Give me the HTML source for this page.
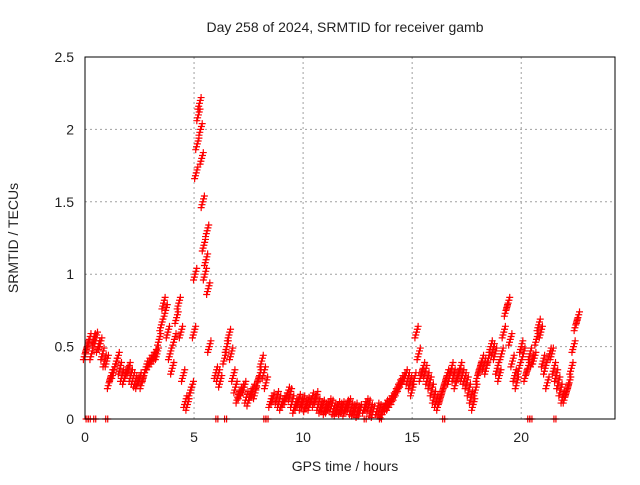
<!DOCTYPE html>
<html><head><meta charset="utf-8"><style>
body{margin:0;background:#fff;font-family:"Liberation Sans",sans-serif}
svg text{font-family:"Liberation Sans",sans-serif;font-size:14px;fill:#222}
</style></head><body>
<svg id="chart" width="640" height="480" xmlns="http://www.w3.org/2000/svg">
<text x="345" y="32" text-anchor="middle">Day 258 of 2024, SRMTID for receiver gamb</text>
<text x="345" y="471" text-anchor="middle">GPS time / hours</text>
<text transform="translate(18,238) rotate(-90)" text-anchor="middle">SRMTID / TECUs</text>
<g id="grid"></g><g id="ticks"></g><g id="marks"></g>
<rect x="85" y="57" width="530" height="362" fill="none" stroke="#000" stroke-width="1"/>
</svg>
<script>
const xTicks=[0,5,10,15,20];
const yTicks=[0,0.5,1,1.5,2,2.5];
const yTickLabels=["0","0.5","1","1.5","2","2.5"];
const times=[0,0.1,0.2,0.3,0.4,0.5,0.6,0.7,0.8,0.9,1.0,1.1,1.2,1.3,1.4,1.5,1.6,1.7,1.8,1.9,2.0,2.1,2.2,2.3,2.4,2.5,2.6,2.7,2.8,2.9,3.0,3.1,3.2,3.3,3.4,3.5,3.6,3.7,3.8,3.9,4.0,4.1,4.2,4.3,4.4,4.5,4.6,4.7,4.8,4.9,5.0,5.05,5.1,5.15,5.2,5.25,5.3,5.35,5.4,5.45,5.5,5.55,5.6,5.65,5.7,6.0,6.1,6.2,6.4,6.5,6.6,6.7,6.8,6.9,7.0,7.1,7.2,7.3,7.4,7.5,7.6,7.7,7.8,7.9,8.0,8.1,8.2,8.3,8.5,8.6,8.8,8.9,9.0,9.1,9.2,9.3,9.4,9.5,9.6,9.7,9.8,9.9,10.0,10.1,10.2,10.3,10.4,10.5,10.6,10.7,10.8,10.9,11.0,11.1,11.2,11.3,11.4,11.5,11.6,11.7,11.8,11.9,12.0,12.1,12.2,12.3,12.4,12.5,12.6,12.8,12.9,13.0,13.1,13.2,13.4,13.5,13.6,13.7,13.8,13.9,14.0,14.1,14.2,14.3,14.4,14.5,14.6,14.7,14.8,14.9,15.0,15.1,15.2,15.3,15.4,15.5,15.6,15.7,15.8,15.9,16.0,16.1,16.2,16.3,16.4,16.5,16.6,16.7,16.8,16.9,17.0,17.1,17.2,17.3,17.4,17.5,17.6,17.7,17.8,17.9,18.0,18.1,18.2,18.3,18.4,18.5,18.6,18.7,18.8,18.9,19.0,19.1,19.2,19.3,19.4,19.5,19.6,19.7,19.8,19.9,20.0,20.1,20.2,20.3,20.4,20.5,20.6,20.7,20.8,20.9,21.0,21.1,21.2,21.3,21.4,21.5,21.6,21.7,21.8,21.9,22.0,22.1,22.2,22.3,22.4,22.5,22.6,22.7,22.8];
const values=[0.45,0.5,0.55,0.45,0.55,0.56,0.5,0.52,0.45,0.4,0.4,0.25,0.3,0.32,0.38,0.42,0.35,0.3,0.28,0.32,0.35,0.3,0.28,0.26,0.25,0.28,0.25,0.3,0.36,0.38,0.4,0.42,0.44,0.45,0.55,0.65,0.8,0.75,0.6,0.45,0.35,0.55,0.7,0.8,0.6,0.3,0.12,0.1,0.18,0.22,0.6,1.0,1.7,1.9,2.1,2.18,2.0,1.8,1.5,1.2,1.0,1.1,1.3,0.9,0.5,0.32,0.3,0.26,0.42,0.5,0.58,0.45,0.3,0.22,0.15,0.18,0.2,0.22,0.15,0.13,0.17,0.2,0.18,0.25,0.3,0.4,0.32,0.25,0.12,0.14,0.15,0.12,0.1,0.12,0.14,0.18,0.17,0.12,0.08,0.1,0.13,0.1,0.12,0.09,0.11,0.1,0.14,0.12,0.15,0.1,0.08,0.09,0.07,0.08,0.1,0.09,0.07,0.06,0.08,0.07,0.08,0.06,0.09,0.1,0.07,0.06,0.07,0.05,0.06,0.08,0.1,0.09,0.06,0.05,0.07,0.06,0.05,0.07,0.09,0.1,0.12,0.14,0.17,0.2,0.23,0.26,0.28,0.3,0.28,0.25,0.2,0.28,0.6,0.45,0.3,0.35,0.33,0.28,0.25,0.2,0.15,0.12,0.1,0.15,0.2,0.25,0.3,0.28,0.35,0.3,0.25,0.3,0.35,0.3,0.28,0.25,0.2,0.15,0.1,0.2,0.3,0.35,0.4,0.38,0.35,0.42,0.5,0.48,0.45,0.35,0.3,0.45,0.6,0.75,0.8,0.55,0.4,0.3,0.25,0.35,0.5,0.45,0.3,0.35,0.45,0.4,0.42,0.55,0.65,0.6,0.4,0.35,0.25,0.45,0.45,0.35,0.3,0.25,0.2,0.15,0.15,0.2,0.25,0.35,0.5,0.65,0.7];
const zeroTimes=[0.05,0.15,0.4,0.95,6.0,6.4,8.2,8.3,12.8,13.5,16.4,20.3,20.4,21.5];
const X0=85,X1=615,Y0=419,Y1=57,XMAX=24.3,YMAX=2.5;
function xs(t){return X0+(X1-X0)*t/XMAX}
function ys(v){return Y0-(Y0-Y1)*v/YMAX}
const NS="http://www.w3.org/2000/svg";
const grid=document.getElementById('grid'),ticks=document.getElementById('ticks'),marks=document.getElementById('marks');
function mk(tag,attrs,parent){const e=document.createElementNS(NS,tag);for(const k in attrs)e.setAttribute(k,attrs[k]);parent.appendChild(e);return e;}
xTicks.forEach(t=>{
  const x=xs(t);
  if(t>0){const g=mk('line',{x1:x,x2:x,y1:Y1,y2:Y0,stroke:'#a0a0a0','stroke-dasharray':'2,3'},grid);
  
  }
  const l=mk('text',{x:x,y:Y0+23,'text-anchor':'middle'},ticks);l.textContent=t;
  
  
});
yTicks.forEach((v,i)=>{
  const y=ys(v);
  if(v>0&&v<YMAX){const g=mk('line',{x1:X0,x2:X1,y1:y,y2:y,stroke:'#a0a0a0','stroke-dasharray':'2,3'},grid);
  
  }
  const l=mk('text',{x:X0-11,y:y+5,'text-anchor':'end'},ticks);l.textContent=yTickLabels[i];
  
  
});
const offs=[-0.04,-0.02,0,0.02,0.04];
function cross(x,y){
  const p=mk('path',{d:`M${x-3.5},${y}h7M${x},${y-3.5}v7`,stroke:'#f00','stroke-width':1.2,fill:'none'},marks);
  
  
}
times.forEach((t,i)=>{offs.forEach((o,j)=>cross(xs(t)+(j-2)*0.8,ys(Math.max(0.01,values[i]+o))));});
zeroTimes.forEach(t=>{cross(xs(t),Y0);cross(xs(t)+2,Y0);});
</script>
</body></html>
